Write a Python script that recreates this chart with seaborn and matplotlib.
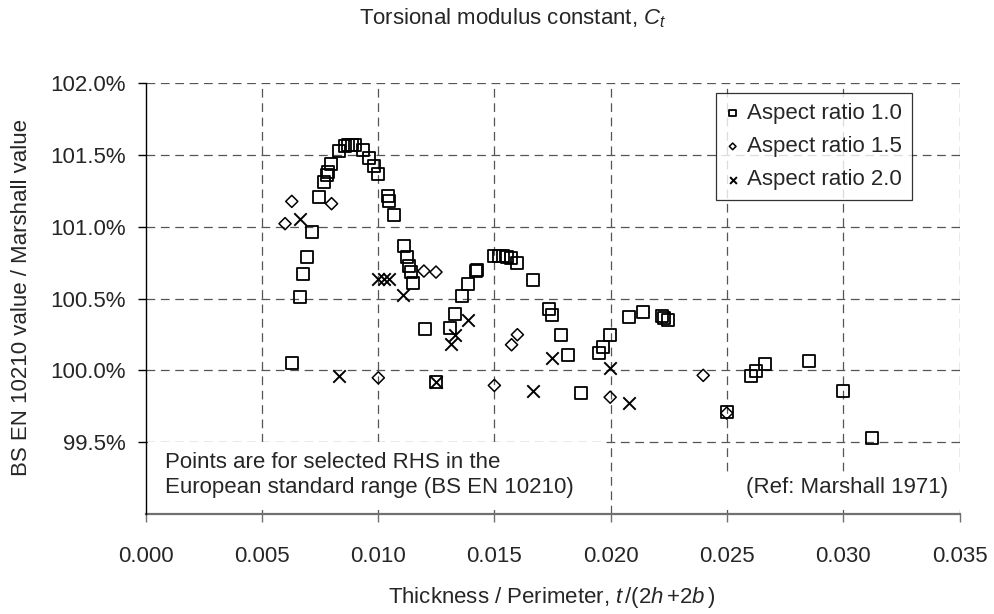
import matplotlib
matplotlib.use("Agg")
import matplotlib.pyplot as plt
import seaborn as sns
import pandas as pd
from matplotlib.patches import Rectangle
from matplotlib.ticker import FuncFormatter

# ---------------- data ----------------
ar10_x = [0.00629, 0.00664, 0.00678, 0.00693, 0.00715, 0.00747, 0.00767, 0.00779, 0.00783, 0.00797,
          0.00832, 0.00858, 0.00872, 0.00886, 0.00901, 0.00936, 0.00961, 0.00982, 0.00998, 0.01041,
          0.01048, 0.01070, 0.01111, 0.01123, 0.01134, 0.01140, 0.01151, 0.01202, 0.01249, 0.01309,
          0.01331, 0.01362, 0.01388, 0.01421, 0.01427, 0.01500, 0.01521, 0.01538, 0.01556, 0.01571,
          0.01598, 0.01665, 0.01735, 0.01749, 0.01785, 0.01815, 0.01872, 0.01951, 0.01968, 0.01998,
          0.02080, 0.02140, 0.02219, 0.02229, 0.02248, 0.02499, 0.02602, 0.02625, 0.02663, 0.02854,
          0.02997, 0.03122]
ar10_y = [100.050, 100.508, 100.668, 100.788, 100.962, 101.206, 101.311, 101.362, 101.380, 101.434,
          101.524, 101.559, 101.571, 101.571, 101.566, 101.531, 101.480, 101.422, 101.369, 101.213,
          101.176, 101.079, 100.868, 100.788, 100.726, 100.684, 100.607, 100.290, 99.922, 100.297,
          100.394, 100.517, 100.598, 100.689, 100.701, 100.793, 100.793, 100.793, 100.788, 100.781,
          100.749, 100.626, 100.429, 100.382, 100.243, 100.109, 99.841, 100.123, 100.162, 100.243,
          100.370, 100.405, 100.375, 100.366, 100.348, 99.709, 99.958, 99.992, 100.046, 100.064,
          99.853, 99.528]

ar15_x = [0.00600, 0.00629, 0.00800, 0.01001, 0.01197, 0.01249, 0.01500, 0.01574, 0.01599, 0.01998,
          0.02398, 0.02499]
ar15_y = [101.021, 101.176, 101.160, 99.948, 100.691, 100.684, 99.895, 100.178, 100.248, 99.813,
          99.965, 99.702]

ar20_x = [0.00664, 0.00833, 0.01001, 0.01025, 0.01048, 0.01108, 0.01249, 0.01312, 0.01331, 0.01388,
          0.01665, 0.01749, 0.01998, 0.02080]
ar20_y = [101.056, 99.958, 100.638, 100.638, 100.638, 100.522, 99.922, 100.180, 100.243, 100.347,
          99.855, 100.088, 100.015, 99.771]

series_labels = ["Aspect ratio 1.0", "Aspect ratio 1.5", "Aspect ratio 2.0"]
x_ticks = [0.000, 0.005, 0.010, 0.015, 0.020, 0.025, 0.030, 0.035]
y_ticks = [99.5, 100.0, 100.5, 101.0, 101.5, 102.0]

title_text = "Torsional modulus constant, $C_t$"
xlabel_text = "Thickness / Perimeter, $t\\,$/(2$h\\,$+2$b\\,$)"
ylabel_text = "BS EN 10210 value / Marshall value"
note_left = "Points are for selected RHS in the\nEuropean standard range (BS EN 10210)"
note_right = "(Ref: Marshall 1971)"

# ---------------- style ----------------
sns.set_style("white")
plt.rcParams["font.family"] = ["Liberation Sans", "DejaVu Sans"]
plt.rcParams["mathtext.fontset"] = "custom"
plt.rcParams["mathtext.rm"] = "Liberation Sans"
plt.rcParams["mathtext.it"] = "Liberation Sans:italic"
FS = 16

W, H = 994, 614
fig = plt.figure(figsize=(W / 100, H / 100), dpi=100)
L, R, T, B = 145.5, 959.5, 83, 514
ax = fig.add_axes([L / W, 1 - B / H, (R - L) / W, (B - T) / H])

df = pd.concat([
    pd.DataFrame({"x": ar10_x, "y": ar10_y, "series": series_labels[0]}),
    pd.DataFrame({"x": ar15_x, "y": ar15_y, "series": series_labels[1]}),
    pd.DataFrame({"x": ar20_x, "y": ar20_y, "series": series_labels[2]}),
])

ax.set_xlim(0, 0.035)
ax.set_ylim(99.0, 102.0)

# gridlines (dashed)
grid_kw = dict(color="#555555", lw=0.9, dashes=(7, 4.5), zorder=1)
for xv in x_ticks[1:]:
    ax.plot([xv, xv], [99.0, 102.0], **grid_kw)
for yv in y_ticks:
    ax.plot([0, 0.035], [yv, yv], **grid_kw)

handles = []
specs = [("s", 75, 1.3), ("D", 38, 1.1), ("x", 80, 1.4)]
for lab, (mk, sz, lw) in zip(series_labels, specs):
    sub = df[df["series"] == lab]
    sns.scatterplot(data=sub, x="x", y="y", marker=mk, s=sz, color="black",
                    linewidth=lw, ax=ax, legend=False, zorder=3)
    coll = ax.collections[-1]
    if mk != "x":
        coll.set_facecolor("none")
        coll.set_edgecolor("black")
    handles.append(coll)

# white boxes behind notes
ax.add_patch(Rectangle((0.0001, 99.03), 0.0195, 0.472, facecolor="white", edgecolor="none",
                       zorder=2))
ax.add_patch(Rectangle((0.0245, 99.03), 0.0107, 0.26, facecolor="white", edgecolor="none",
                       zorder=2, clip_on=False))

ax.text((165 - L) / (R - L), (B - 475) / (B - T), note_left, transform=ax.transAxes,
        fontsize=FS, ha="left", va="center", linespacing=1.2, zorder=4)
ax.text((948 - L) / (R - L), (B - 488) / (B - T), note_right, transform=ax.transAxes,
        fontsize=FS, ha="right", va="center", zorder=4)

# axes styling
for s in ["top", "right"]:
    ax.spines[s].set_visible(False)
ax.spines["left"].set_color("black")
ax.spines["left"].set_linewidth(1.0)
ax.spines["bottom"].set_color("#707070")
ax.spines["bottom"].set_linewidth(1.6)
ax.spines["left"].set_zorder(3)

ax.set_xticks(x_ticks)
ax.set_xticklabels([f"{v:.3f}" for v in x_ticks])
ax.set_yticks(y_ticks)
ax.yaxis.set_major_formatter(FuncFormatter(lambda v, p: f"{v:.1f}%"))
ax.tick_params(axis="x", direction="out", length=6, width=1, color="#707070",
               labelsize=FS, pad=17, bottom=True)
ax.tick_params(axis="y", direction="out", length=6, width=1, color="black",
               labelsize=FS, pad=8, left=True)
ax.set_xlabel("")
ax.set_ylabel("")

leg = ax.legend(handles=handles, labels=series_labels, loc="upper right",
                bbox_to_anchor=((912 - L) / (R - L), (B - 93) / (B - T)),
                borderaxespad=0, fontsize=FS, frameon=True, fancybox=False,
                markerscale=0.55, handlelength=0.6, handletextpad=0.35,
                labelspacing=0.55, borderpad=0.45)
leg.get_frame().set_edgecolor("black")
leg.get_frame().set_linewidth(0.9)
leg.set_zorder(5)

fig.text(513 / W, 1 - 18 / H, title_text, ha="center", va="center", fontsize=FS)
fig.text(552 / W, 1 - 597 / H, xlabel_text, ha="center", va="center", fontsize=FS)
fig.text(21.7 / W, 1 - 298 / H, ylabel_text, ha="center", va="center", fontsize=FS,
         rotation=90)

fig.savefig("out.png", dpi=100, facecolor="white")
